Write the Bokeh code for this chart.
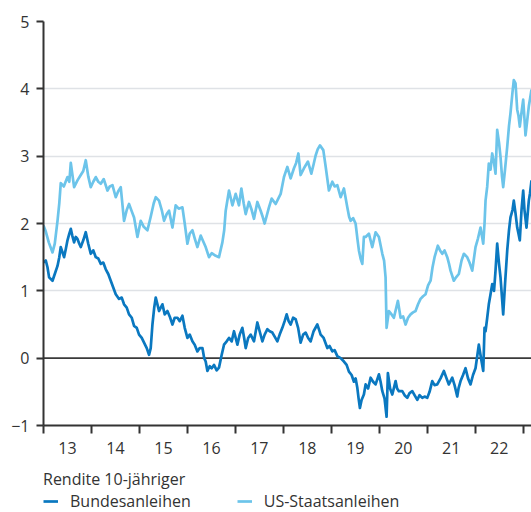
from bokeh.plotting import figure
from bokeh.layouts import column
from bokeh.models import Range1d, FixedTicker, Span, Legend, LegendItem
from bokeh.embed import file_html
from bokeh.resources import INLINE

# ---- data (decimal years, yield in %) ----
us_dates = [2013.000, 2013.048, 2013.110, 2013.188, 2013.235, 2013.292, 2013.329, 2013.360, 2013.423, 2013.500,
            2013.538, 2013.569, 2013.638, 2013.708, 2013.777, 2013.829, 2013.881, 2013.933, 2013.985, 2014.038,
            2014.090, 2014.142, 2014.194, 2014.256, 2014.333, 2014.381, 2014.438, 2014.506, 2014.558, 2014.610,
            2014.679, 2014.735, 2014.783, 2014.840, 2014.888, 2014.958, 2015.027, 2015.090, 2015.167, 2015.235,
            2015.298, 2015.340, 2015.408, 2015.465, 2015.513, 2015.569, 2015.617, 2015.688, 2015.756, 2015.819,
            2015.896, 2015.944, 2016.000, 2016.048, 2016.104, 2016.152, 2016.208, 2016.277, 2016.319, 2016.381,
            2016.450, 2016.506, 2016.590, 2016.658, 2016.729, 2016.767, 2016.798, 2016.867, 2016.938, 2017.006,
            2017.075, 2017.125, 2017.173, 2017.215, 2017.283, 2017.340, 2017.388, 2017.458, 2017.527, 2017.569,
            2017.610, 2017.700, 2017.756, 2017.840, 2017.902, 2017.944, 2018.013, 2018.083, 2018.152, 2018.221,
            2018.267, 2018.313, 2018.360, 2018.429, 2018.513, 2018.583, 2018.631, 2018.673, 2018.715, 2018.763,
            2018.833, 2018.881, 2018.950, 2019.021, 2019.069, 2019.125, 2019.194, 2019.263, 2019.333, 2019.371,
            2019.402, 2019.454, 2019.506, 2019.548, 2019.575, 2019.610, 2019.646, 2019.679, 2019.715, 2019.783,
            2019.854, 2019.923, 2019.992, 2020.063, 2020.100, 2020.131, 2020.152, 2020.200, 2020.256, 2020.304,
            2020.388, 2020.444, 2020.496, 2020.548, 2020.600, 2020.652, 2020.704, 2020.756, 2020.808, 2020.860,
            2020.913, 2020.965, 2021.017, 2021.069, 2021.110, 2021.152, 2021.221, 2021.267, 2021.313, 2021.360,
            2021.417, 2021.454, 2021.485, 2021.554, 2021.600, 2021.658, 2021.715, 2021.763, 2021.833, 2021.881,
            2021.938, 2022.006, 2022.058, 2022.110, 2022.167, 2022.194, 2022.215, 2022.250, 2022.283, 2022.319,
            2022.354, 2022.392, 2022.423, 2022.458, 2022.496, 2022.527, 2022.558, 2022.583, 2022.621, 2022.667,
            2022.704, 2022.735, 2022.777, 2022.804, 2022.840, 2022.875, 2022.902, 2022.929, 2022.965, 2023.000,
            2023.027, 2023.048, 2023.079, 2023.117, 2023.142, 2023.173]
us_yield = [1.97, 1.88, 1.72, 1.57, 1.70, 2.04, 2.30, 2.60, 2.55, 2.69,
            2.62, 2.90, 2.54, 2.64, 2.72, 2.78, 2.94, 2.70, 2.54, 2.62,
            2.69, 2.62, 2.59, 2.66, 2.49, 2.55, 2.57, 2.39, 2.48, 2.54,
            2.04, 2.20, 2.29, 2.18, 2.09, 1.80, 2.04, 1.95, 1.90, 2.10,
            2.30, 2.39, 2.34, 2.20, 2.04, 2.14, 2.19, 1.94, 2.27, 2.22,
            2.24, 2.00, 1.70, 1.85, 1.90, 1.78, 1.65, 1.82, 1.75, 1.65,
            1.50, 1.56, 1.52, 1.50, 1.72, 1.90, 2.19, 2.49, 2.27, 2.44,
            2.27, 2.52, 2.30, 2.14, 2.32, 2.20, 2.07, 2.32, 2.19, 2.10,
            2.00, 2.24, 2.37, 2.29, 2.38, 2.44, 2.69, 2.84, 2.67, 2.82,
            2.90, 3.04, 2.72, 2.82, 2.92, 2.74, 2.88, 3.01, 3.10, 3.16,
            3.09, 2.85, 2.49, 2.62, 2.55, 2.57, 2.39, 2.52, 2.24, 2.10,
            2.04, 2.08, 2.00, 1.75, 1.60, 1.48, 1.40, 1.80, 1.80, 1.85,
            1.65, 1.87, 1.80, 1.55, 1.45, 1.20, 0.45, 0.70, 0.65, 0.60,
            0.85, 0.60, 0.62, 0.50, 0.60, 0.65, 0.68, 0.70, 0.80, 0.88,
            0.92, 0.95, 1.08, 1.15, 1.35, 1.50, 1.67, 1.60, 1.55, 1.60,
            1.50, 1.40, 1.30, 1.15, 1.20, 1.25, 1.45, 1.55, 1.50, 1.42,
            1.30, 1.65, 1.78, 1.94, 1.70, 2.00, 2.34, 2.55, 2.89, 2.80,
            3.04, 2.90, 2.74, 3.39, 3.20, 2.99, 2.70, 2.54, 2.80, 3.14,
            3.45, 3.64, 3.95, 4.13, 4.08, 3.69, 3.60, 3.44, 3.65, 3.84,
            3.55, 3.31, 3.50, 3.74, 3.85, 3.99]

bund_dates = [2013.000, 2013.048, 2013.083, 2013.117, 2013.188, 2013.235, 2013.292, 2013.329, 2013.360, 2013.392,
              2013.429, 2013.465, 2013.500, 2013.538, 2013.569, 2013.600, 2013.638, 2013.673, 2013.708, 2013.746,
              2013.777, 2013.829, 2013.881, 2013.933, 2013.985, 2014.038, 2014.090, 2014.142, 2014.194, 2014.246,
              2014.298, 2014.350, 2014.402, 2014.454, 2014.506, 2014.575, 2014.631, 2014.679, 2014.735, 2014.783,
              2014.840, 2014.888, 2014.944, 2014.992, 2015.048, 2015.096, 2015.152, 2015.200, 2015.235, 2015.271,
              2015.308, 2015.340, 2015.375, 2015.408, 2015.444, 2015.479, 2015.527, 2015.583, 2015.631, 2015.688,
              2015.735, 2015.792, 2015.840, 2015.896, 2015.944, 2016.000, 2016.048, 2016.104, 2016.152, 2016.208,
              2016.256, 2016.313, 2016.350, 2016.381, 2016.417, 2016.465, 2016.506, 2016.554, 2016.610, 2016.658,
              2016.715, 2016.763, 2016.819, 2016.867, 2016.923, 2016.971, 2017.042, 2017.090, 2017.146, 2017.183,
              2017.215, 2017.267, 2017.319, 2017.388, 2017.458, 2017.506, 2017.563, 2017.610, 2017.667, 2017.715,
              2017.771, 2017.819, 2017.875, 2017.923, 2017.979, 2018.027, 2018.069, 2018.110, 2018.152, 2018.204,
              2018.256, 2018.308, 2018.360, 2018.413, 2018.465, 2018.517, 2018.569, 2018.631, 2018.708, 2018.746,
              2018.777, 2018.840, 2018.917, 2018.965, 2019.021, 2019.069, 2019.125, 2019.194, 2019.263, 2019.319,
              2019.367, 2019.423, 2019.471, 2019.506, 2019.542, 2019.569, 2019.596, 2019.631, 2019.679, 2019.715,
              2019.767, 2019.819, 2019.871, 2019.923, 2019.992, 2020.027, 2020.063, 2020.110, 2020.152, 2020.179,
              2020.225, 2020.271, 2020.340, 2020.371, 2020.408, 2020.479, 2020.527, 2020.583, 2020.631, 2020.688,
              2020.735, 2020.792, 2020.840, 2020.896, 2020.944, 2021.000, 2021.048, 2021.104, 2021.152, 2021.208,
              2021.277, 2021.346, 2021.402, 2021.450, 2021.521, 2021.569, 2021.625, 2021.652, 2021.694, 2021.746,
              2021.798, 2021.850, 2021.902, 2021.954, 2022.006, 2022.075, 2022.121, 2022.167, 2022.194, 2022.215,
              2022.250, 2022.283, 2022.319, 2022.354, 2022.392, 2022.423, 2022.458, 2022.496, 2022.527, 2022.558,
              2022.583, 2022.621, 2022.667, 2022.704, 2022.735, 2022.777, 2022.804, 2022.840, 2022.875, 2022.902,
              2022.929, 2022.965, 2023.000, 2023.027, 2023.069, 2023.117, 2023.142, 2023.173]
bund_yield = [1.42, 1.45, 1.35, 1.20, 1.15, 1.25, 1.37, 1.50, 1.65, 1.58,
              1.50, 1.62, 1.75, 1.85, 1.92, 1.82, 1.72, 1.80, 1.77, 1.70,
              1.65, 1.75, 1.87, 1.70, 1.55, 1.60, 1.50, 1.48, 1.40, 1.42,
              1.32, 1.25, 1.15, 1.05, 0.95, 0.88, 0.90, 0.80, 0.75, 0.65,
              0.60, 0.48, 0.45, 0.35, 0.30, 0.23, 0.15, 0.05, 0.15, 0.50,
              0.75, 0.90, 0.80, 0.70, 0.75, 0.80, 0.65, 0.70, 0.62, 0.50,
              0.60, 0.60, 0.55, 0.63, 0.45, 0.30, 0.35, 0.25, 0.20, 0.10,
              0.15, 0.15, 0.00, -0.05, -0.19, -0.12, -0.15, -0.10, -0.18, -0.14,
              0.05, 0.20, 0.25, 0.30, 0.25, 0.40, 0.20, 0.35, 0.45, 0.30,
              0.15, 0.30, 0.35, 0.25, 0.53, 0.40, 0.25, 0.35, 0.43, 0.40,
              0.38, 0.32, 0.25, 0.35, 0.45, 0.55, 0.65, 0.55, 0.50, 0.60,
              0.58, 0.45, 0.23, 0.35, 0.38, 0.30, 0.25, 0.40, 0.50, 0.42,
              0.35, 0.30, 0.15, 0.18, 0.10, 0.12, 0.03, 0.00, -0.05, -0.10,
              -0.20, -0.25, -0.35, -0.30, -0.44, -0.60, -0.74, -0.62, -0.54, -0.39,
              -0.45, -0.29, -0.35, -0.39, -0.24, -0.35, -0.49, -0.60, -0.87, -0.22,
              -0.45, -0.54, -0.34, -0.45, -0.49, -0.49, -0.55, -0.59, -0.52, -0.49,
              -0.55, -0.62, -0.55, -0.59, -0.57, -0.59, -0.50, -0.34, -0.40, -0.39,
              -0.30, -0.19, -0.30, -0.39, -0.29, -0.40, -0.57, -0.45, -0.34, -0.25,
              -0.15, -0.30, -0.39, -0.25, -0.15, 0.20, 0.00, -0.19, 0.45, 0.40,
              0.60, 0.80, 0.95, 1.10, 1.00, 1.30, 1.70, 1.40, 1.20, 0.90,
              0.65, 1.10, 1.60, 1.90, 2.09, 2.20, 2.34, 2.15, 1.94, 1.85,
              1.75, 2.20, 2.49, 2.20, 1.94, 2.34, 2.45, 2.64]

year_ticks = [2013, 2014, 2015, 2016, 2017, 2018, 2019, 2020, 2021, 2022, 2023]
year_labels = ["13", "14", "15", "16", "17", "18", "19", "20", "21", "22"]
y_ticks = [-1, 0, 1, 2, 3, 4, 5]

legend_title = "Rendite 10-jähriger"
name_bund = "Bundesanleihen"
name_us = "US-Staatsanleihen"

# ---- styling ----
FONT = "Open Sans"
TEXT = "#333333"
AXIS = "#333333"
BUND = "#0a78c0"
US = "#6cc4ea"
LW = 2.7

p = figure(width=531, height=462, output_backend="svg", toolbar_location=None,
           x_range=Range1d(year_ticks[0], 2023.173), y_range=Range1d(y_ticks[0], y_ticks[-1]),
           min_border_left=43, min_border_right=0, min_border_top=21, min_border_bottom=37)
p.outline_line_color = None
p.background_fill_color = "white"
p.border_fill_color = "white"

p.xgrid.visible = False
p.ygrid.ticker = FixedTicker(ticks=[t for t in y_ticks if t > 0])
p.ygrid.grid_line_color = "#dfe2e6"
p.ygrid.grid_line_width = 1.5

zero = Span(location=0, dimension="width", line_color="#3a3a3a", line_width=1.6, level="underlay")
p.add_layout(zero)

# y axis
p.yaxis.ticker = FixedTicker(ticks=y_ticks)
p.yaxis.major_label_overrides = {t: (str(t).replace("-", "\u2212")) for t in y_ticks}
p.yaxis.axis_line_color = AXIS
p.yaxis.axis_line_width = 2
p.yaxis.major_tick_line_color = AXIS
p.yaxis.major_tick_line_width = 2
p.yaxis.major_tick_out = 7
p.yaxis.major_tick_in = 0
p.yaxis.minor_tick_line_color = None
p.yaxis.major_label_standoff = 7
p.yaxis.major_label_text_font = FONT
p.yaxis.major_label_text_font_size = "16px"
p.yaxis.major_label_text_color = TEXT

# x axis: tick marks at year boundaries, labels mid-year
mids = [y + 0.5 for y in year_ticks[:-1]]
p.xaxis.ticker = FixedTicker(ticks=mids, minor_ticks=year_ticks)
p.xaxis.major_label_overrides = {m: lab for m, lab in zip(mids, year_labels)}
p.xaxis.axis_line_color = AXIS
p.xaxis.axis_line_width = 2
p.xaxis.major_tick_line_color = None
p.xaxis.major_tick_out = 0
p.xaxis.major_tick_in = 0
p.xaxis.minor_tick_line_color = AXIS
p.xaxis.minor_tick_line_width = 2
p.xaxis.minor_tick_out = 8
p.xaxis.minor_tick_in = 0
p.xaxis.major_label_standoff = 8
p.xaxis.major_label_text_font = FONT
p.xaxis.major_label_text_font_size = "16px"
p.xaxis.major_label_text_color = TEXT

p.line(bund_dates, bund_yield, line_color=BUND, line_width=LW, line_join="round")
p.line(us_dates, us_yield, line_color=US, line_width=LW, line_join="round")

# ---- legend strip below the chart ----
lg = figure(width=531, height=50, output_backend="svg", toolbar_location=None,
            x_range=Range1d(0, 1), y_range=Range1d(0, 1),
            x_axis_location=None, y_axis_location=None,
            min_border_left=0, min_border_right=0, min_border_top=0, min_border_bottom=0)
lg.outline_line_color = None
lg.grid.visible = False
lg.background_fill_color = "white"
lg.border_fill_color = "white"
# same series, outside the strip's visible range: they only feed the legend swatches
lr_b = lg.line(bund_dates, bund_yield, line_color=BUND, line_width=LW)
lr_u = lg.line(us_dates, us_yield, line_color=US, line_width=LW)

legend = Legend(items=[LegendItem(label=name_bund, renderers=[lr_b]),
                       LegendItem(label=name_us, renderers=[lr_u])],
                title=legend_title, orientation="horizontal", location=(0, 0))
legend.border_line_color = None
legend.background_fill_alpha = 0
legend.padding = 0
legend.margin = 0
legend.spacing = 46
legend.label_standoff = 12
legend.glyph_width = 15
legend.glyph_height = 16
legend.label_height = 16
legend.label_text_font = FONT
legend.label_text_font_size = "16px"
legend.label_text_color = TEXT
legend.title_text_font = FONT
legend.title_text_font_size = "16px"
legend.title_text_font_style = "normal"
legend.title_text_color = TEXT
legend.title_standoff = 0
lg.add_layout(legend, "center")

layout = column(p, lg, spacing=0)
open("out.html", "w").write(file_html(layout, INLINE))
